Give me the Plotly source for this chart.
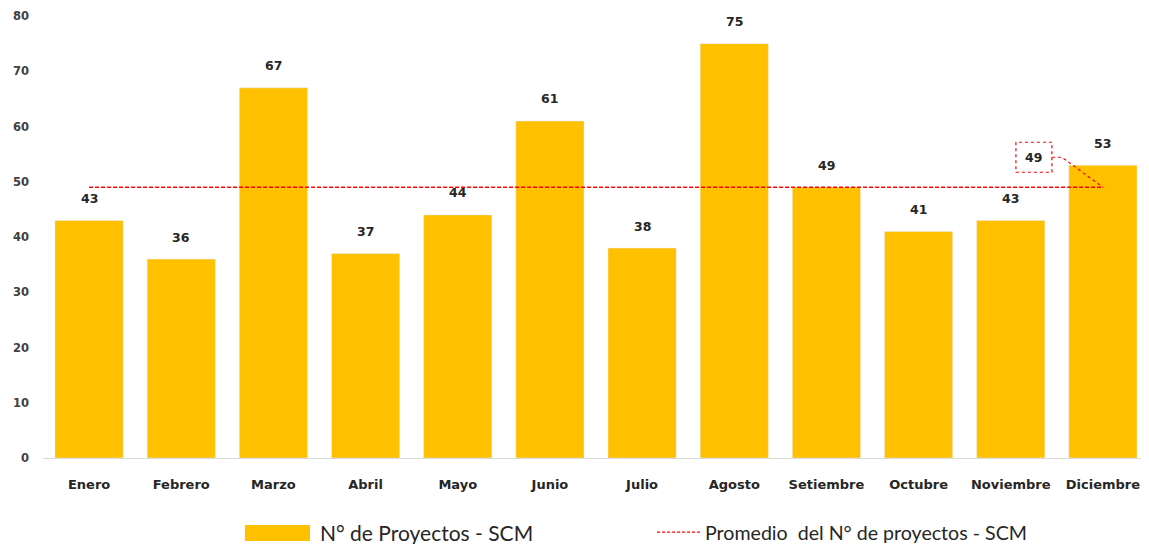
import plotly.graph_objects as go

months = ["Enero", "Febrero", "Marzo", "Abril", "Mayo", "Junio", "Julio",
          "Agosto", "Setiembre", "Octubre", "Noviembre", "Diciembre"]
proyectos = [43, 36, 67, 37, 44, 61, 38, 75, 49, 41, 43, 53]
promedio = 49
y_ticks = [0, 10, 20, 30, 40, 50, 60, 70, 80]

GOLD = "#FFC000"
RED = "#FF0000"
LEG_FONT = "Lato, Liberation Sans, Arial, sans-serif"
LBL_FONT = "DejaVu Sans, Verdana, sans-serif"

fig = go.Figure()
fig.add_trace(go.Bar(x=months, y=proyectos, marker_color=GOLD, width=0.74,
                     name="N° de Proyectos - SCM", showlegend=False))
fig.add_trace(go.Scatter(x=months, y=[promedio] * len(months), mode="lines",
                         line=dict(color=RED, width=1.3, dash="4px,2px"),
                         name="Promedio  del N° de proyectos - SCM", showlegend=False))

annotations = []
for m, v in zip(months, proyectos):
    annotations.append(dict(x=m, y=v, text=str(v), showarrow=False, yshift=22,
                            font=dict(family=LBL_FONT, size=12.5, color="#262626", weight="bold")))
# average callout label
annotations.append(dict(x=len(months) - 1, y=promedio, text=str(promedio), showarrow=False,
                        xshift=-69, yshift=30,
                        font=dict(family=LBL_FONT, size=12.5, color="#262626", weight="bold")))

# manual legend
LEG_Y = -0.1675
annotations.append(dict(xref="paper", yref="paper", x=0.2486, y=LEG_Y, xanchor="left",
                        yanchor="middle", showarrow=False, text="N° de Proyectos - SCM",
                        font=dict(family=LEG_FONT, size=21, color="#262626")))
annotations.append(dict(xref="paper", yref="paper", x=0.5967, y=LEG_Y, xanchor="left",
                        yanchor="middle", showarrow=False,
                        text="Promedio  del N° de proyectos - SCM",
                        font=dict(family=LEG_FONT, size=19.6, color="#262626")))

shapes = [
    dict(type="rect", xref="x", yref="y", xsizemode="pixel", ysizemode="pixel",
         xanchor=len(months) - 1, yanchor=promedio, x0=-87, x1=-51, y0=15, y1=45,
         line=dict(color=RED, width=1.2, dash="dot"), fillcolor="rgba(0,0,0,0)"),
    dict(type="path", xref="x", yref="y", xsizemode="pixel", ysizemode="pixel",
         xanchor=len(months) - 1, yanchor=promedio, path="M-51,30 L-41,30 L0,0",
         line=dict(color=RED, width=1.2, dash="dot")),
    # legend markers
    dict(type="rect", xref="paper", yref="paper", x0=0.1826, x1=0.2414, y0=-0.1878, y1=-0.1516,
         fillcolor=GOLD, line=dict(width=0)),
    dict(type="line", xref="paper", yref="paper", x0=0.5552, x1=0.594, y0=LEG_Y, y1=LEG_Y,
         line=dict(color=RED, width=1.3, dash="3px,2px")),
]

fig.update_layout(
    width=1141, height=536,
    margin=dict(l=35, r=0, t=8, b=86),
    plot_bgcolor="white", paper_bgcolor="white",
    showlegend=False,
    annotations=annotations,
    shapes=shapes,
    bargap=0.26,
    xaxis=dict(type="category", range=[-0.5, 11.5], showline=True, linecolor="#D9D9D9",
               linewidth=1, ticks="", showgrid=False, automargin=False,
               tickfont=dict(family=LBL_FONT, size=13, color="#262626", weight="bold"),
               ticklabelstandoff=14),
    yaxis=dict(range=[0, 80], tickvals=y_ticks, showgrid=False, zeroline=False,
               showline=False, ticks="", automargin=False,
               tickfont=dict(family=LBL_FONT, size=11.5, color="#404040", weight="bold"),
               ticklabelstandoff=13),
)

fig.write_html("out.html")
